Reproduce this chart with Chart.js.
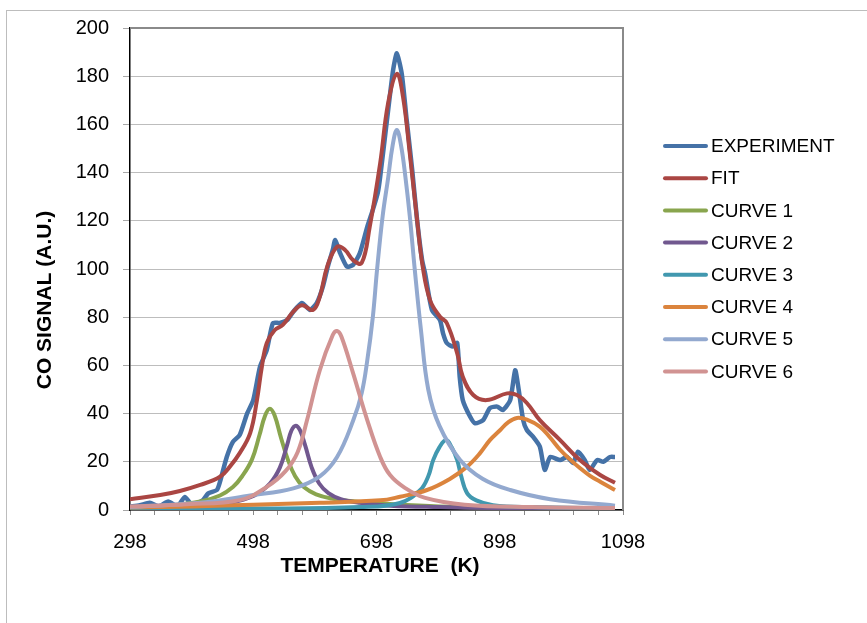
<!DOCTYPE html>
<html>
<head>
<meta charset="utf-8">
<script src="https://cdn.jsdelivr.net/npm/chart.js@4.4.1/dist/chart.umd.min.js"></script>
<style>
  html, body { margin: 0; padding: 0; background: #fff; overflow: hidden; }
  #frame { position: absolute; left: 6px; top: 10px; width: 900px; height: 700px; border: 1px solid #bdbdbd; }
  #chart { position: absolute; left: 0; top: 0; }
</style>
</head>
<body>
<div id="frame"></div>
<canvas id="chart" width="867" height="623"></canvas>
<script>
// temperatures (K) and CO signal
const expT = [298, 314, 330, 345, 360, 375, 387, 399, 416, 425, 439, 444, 455, 465, 476, 488, 498, 509, 520, 530, 541, 553, 563, 577, 590, 601, 611, 619, 627, 631, 639, 650, 660, 671, 683, 692, 700, 704, 715, 725, 731, 739, 747, 756, 764, 772, 777, 788, 801, 806, 812, 822, 829, 833, 838, 850, 858, 871, 882, 894, 903, 915, 923, 928, 936, 942, 952, 963, 971, 980, 996, 1007, 1017, 1025, 1036, 1044, 1056, 1066, 1077, 1085];
const expY = [1.4, 2, 3, 1.5, 3.5, 1.5, 5.4, 2, 4, 6.9, 8.3, 11.7, 22, 28.3, 31.1, 40, 45.6, 59.5, 66.4, 77.6, 77.6, 78.8, 82.3, 85.9, 83, 85.9, 92.7, 101, 107.9, 112, 106.6, 101, 101.7, 106.6, 117.5, 124.5, 131.5, 138.3, 161.8, 182.6, 189.5, 181, 161.8, 141, 120, 103.7, 98, 83, 78.8, 73.3, 69.3, 67.8, 69.3, 55.3, 45.6, 38.7, 36, 37.3, 42.3, 42.9, 41.5, 45.6, 58, 51.2, 37.3, 33.2, 30.4, 26.3, 16.6, 22, 20.7, 22, 19.5, 24.2, 20.7, 16.6, 20.7, 20, 22, 22];

const fitT = [298, 347, 379, 412, 444, 460, 476, 493, 504, 512, 520, 533, 546, 563, 577, 595, 606, 618, 634, 647, 660, 674, 687, 704, 717, 731, 741, 752, 764, 773, 785, 801, 812, 829, 838, 855, 877, 910, 926, 942, 963, 996, 1028, 1061, 1085];
const fitY = [4.5, 6.2, 7.9, 10.4, 13.8, 18, 23.6, 31.9, 45.6, 59.5, 69.3, 74.7, 76.8, 82.3, 85, 83, 88.5, 101, 109.2, 107.9, 103.7, 102.5, 117.5, 144, 169, 181, 171.5, 148, 120, 101, 87, 80.2, 77.6, 65, 55.3, 47.7, 45.6, 48.4, 47.7, 44.4, 37.3, 29, 20.7, 14.5, 11.3];

const c1T = [298, 360, 412, 444, 465, 480, 496, 508, 517, 525, 533, 543, 554, 566, 580, 600, 625, 660, 720, 800, 900, 1085];
const c1Y = [1.2, 1.8, 3.5, 6, 9.5, 14, 21, 31, 39, 42, 39, 30, 21, 14, 9.5, 6.5, 4.8, 3.6, 2.5, 1.5, 1, 0.6];

const c2T = [298, 400, 460, 500, 525, 541, 553, 560, 567, 574, 582, 593, 605, 620, 640, 670, 720, 800, 900, 1085];
const c2Y = [0.8, 1.5, 3, 6, 11, 17.5, 27, 33, 35, 33, 27, 17.5, 11, 7, 4.5, 3, 1.8, 1.2, 0.8, 0.5];

const c3T = [298, 500, 671, 736, 769, 782, 790, 800, 811, 820, 829, 835, 845, 860, 887, 950, 1085];
const c3Y = [0.4, 0.6, 1.2, 2.9, 8.3, 14, 20.7, 26, 29, 26, 20.7, 14.5, 7, 4, 2, 1.2, 0.7];

const c4T = [298, 400, 498, 606, 704, 736, 780, 817, 845, 866, 882, 898, 912, 926, 942, 963, 980, 996, 1012, 1028, 1044, 1061, 1085];
const c4Y = [1, 1.5, 2.2, 3, 4, 5.5, 8.3, 12.9, 18, 23.6, 29, 33, 36.5, 38.2, 37.5, 34.6, 30, 25, 21, 17.4, 14.3, 11.7, 8.3];

const c5T = [298, 412, 493, 563, 606, 634, 660, 674, 683, 692, 699, 708, 717, 724, 731, 738, 745, 752, 760, 770, 782, 800, 833, 870, 915, 980, 1085];
const c5Y = [1.2, 3, 6, 9, 14, 22, 37, 48.5, 62, 80, 100, 122, 138, 151, 157.7, 151, 138, 122, 100, 75, 50, 35, 21, 13, 8.3, 4.5, 1.8];

const c6T = [298, 390, 476, 520, 550, 570, 585, 606, 627, 634, 641, 660, 683, 704, 720, 744, 777, 841, 950, 1085];
const c6Y = [1.4, 2.4, 4.1, 9.6, 16, 24, 37, 58, 72.6, 74.3, 72, 56.8, 37.3, 22, 14.5, 9.2, 5, 2.2, 1.2, 0.8];

const seriesNames = ["EXPERIMENT", "FIT", "CURVE 1", "CURVE 2", "CURVE 3", "CURVE 4", "CURVE 5", "CURVE 6"];
const seriesColors = ["#4572A7", "#AA4643", "#89A54E", "#71588F", "#4198AF", "#DB843D", "#93A9CF", "#D19392"];
const xLabels = [298, 498, 698, 898, 1098];
const xMinorStep = 40;

const FONT = "'Liberation Sans', Arial, sans-serif";

function pts(xs, ys) {
  return xs.map((x, i) => ({ x: x, y: ys[i] }));
}

const allT = [expT, fitT, c1T, c2T, c3T, c4T, c5T, c6T];
const allY = [expY, fitY, c1Y, c2Y, c3Y, c4Y, c5Y, c6Y];

const datasets = seriesNames.map((name, i) => ({
  label: name,
  data: pts(allT[i], allY[i]),
  borderColor: seriesColors[i],
  backgroundColor: seriesColors[i],
  borderWidth: i === 0 ? 4.5 : 4,
  pointRadius: 0,
  fill: false,
  tension: i === 0 ? 0.2 : 0.4,
  order: seriesNames.length - i,
}));

// frame, axis titles and legend
const extras = {
  id: "extras",
  afterDraw(chart) {
    const ctx = chart.ctx;
    const a = chart.chartArea;
    ctx.save();
    ctx.strokeStyle = "#8a8a8a";
    ctx.lineWidth = 2;
    ctx.beginPath();
    ctx.moveTo(a.left, a.top);
    ctx.lineTo(a.right, a.top);
    ctx.lineTo(a.right, a.bottom);
    ctx.stroke();

    ctx.fillStyle = "#000";
    ctx.font = "bold 21px " + FONT;
    ctx.textAlign = "center";
    ctx.textBaseline = "middle";
    ctx.fillText("TEMPERATURE  (K)", 380, 566);

    ctx.save();
    ctx.translate(45, 300);
    ctx.rotate(-Math.PI / 2);
    ctx.fillText("CO SIGNAL (A.U.)", 0, 0);
    ctx.restore();

    ctx.font = "19px " + FONT;
    ctx.textAlign = "left";
    seriesNames.forEach((name, i) => {
      const y = 146 + i * 32.2;
      ctx.strokeStyle = seriesColors[i];
      ctx.lineWidth = 4;
      ctx.lineCap = "round";
      ctx.beginPath();
      ctx.moveTo(665, y);
      ctx.lineTo(706, y);
      ctx.stroke();
      ctx.fillText(name, 711, y + 1);
    });
    ctx.restore();
  },
};

new Chart(document.getElementById("chart"), {
  type: "line",
  data: { datasets: datasets },
  options: {
    responsive: false,
    animation: false,
    layout: { padding: { left: 0, right: 244, top: 28, bottom: 0 } },
    plugins: { legend: { display: false }, tooltip: { enabled: false } },
    scales: {
      x: {
        type: "linear",
        min: 298,
        max: 1098,
        afterBuildTicks(scale) {
          const ticks = [];
          for (let v = 298; v <= 1098; v += xMinorStep) ticks.push({ value: v });
          scale.ticks = ticks;
        },
        afterFit(scale) { scale.height = 113; },
        ticks: {
          autoSkip: false,
          maxRotation: 0,
          padding: 15,
          color: "#000",
          font: { family: FONT, size: 20 },
          callback: (v) => (xLabels.includes(v) ? String(v) : ""),
        },
        grid: { drawOnChartArea: false, tickLength: 5, tickColor: "#8a8a8a" },
        border: { color: "#000", width: 1.5 },
      },
      y: {
        min: 0,
        max: 200,
        afterFit(scale) { scale.width = 130; },
        ticks: {
          stepSize: 20,
          padding: 14,
          color: "#000",
          font: { family: FONT, size: 20 },
        },
        grid: { color: "#bdbdbd", lineWidth: 1, tickLength: 7, tickColor: "#a8a8a8" },
        border: { color: "#000", width: 1.5 },
      },
    },
  },
  plugins: [extras],
});
</script>
</body>
</html>
